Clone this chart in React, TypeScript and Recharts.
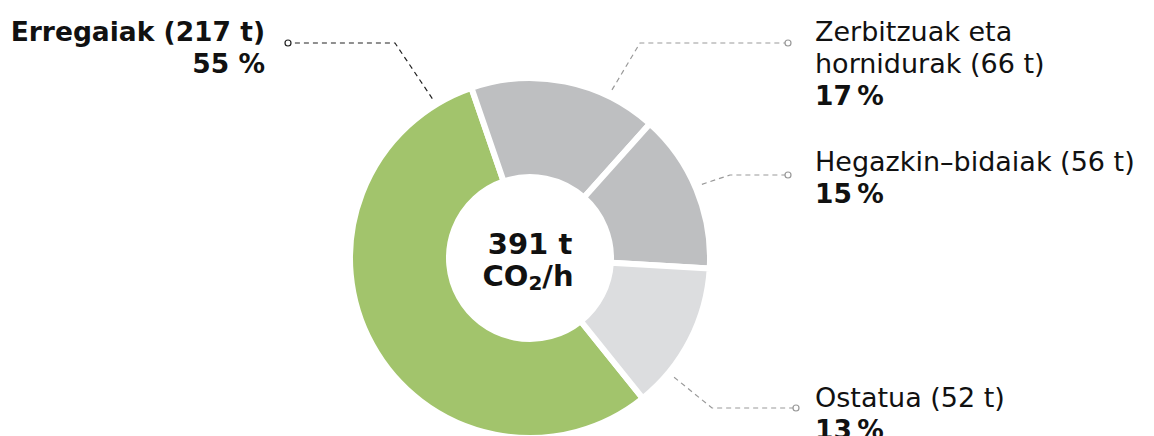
import React from "react"
import { PieChart, Pie, Cell } from "recharts"

const categories = ["Erregaiak", "Zerbitzuak eta hornidurak", "Hegazkin-bidaiak", "Ostatua"]
const tonnes = [217, 66, 56, 52]
const totalLabel = "391 t"

const colors = ["#a2c46c", "#bebfc1", "#bebfc1", "#dcdddf"]

const chartData = categories.map((name, i) => ({ name, value: tonnes[i] }))

const CX = 530
const CY = 258
// the green slice ends at 109° (top left), the others follow clockwise
const total = tonnes.reduce((a, b) => a + b, 0)
const START = 109 + (tonnes[0] / total) * 360

// where each callout sits, relative to the pie centre
const callouts = [
  { angle: 121.5, elbow: [-135, -215], dot: [-242, -215], textX: -265, anchor: "end", lines: [["Erregaiak (217 t)", true], ["55 %", true]], baseY: -217, color: "#222" },
  { angle: 64, elbow: [110, -215], dot: [258, -215], textX: 285, anchor: "start", lines: [["Zerbitzuak eta", false], ["hornidurak (66 t)", false], ["17\u2009%", true]], baseY: -217, color: "#999" },
  { angle: 23.2, elbow: [200, -83], dot: [258, -83], textX: 285, anchor: "start", lines: [["Hegazkin\u2013bidaiak (56 t)", false], ["15\u2009%", true]], baseY: -87, color: "#999" },
  { angle: -39.6, elbow: [182, 150], dot: [266, 150], textX: 285, anchor: "start", lines: [["Ostatua (52 t)", false], ["13\u2009%", true]], baseY: 149, color: "#999" },
]

const FONT = "'DejaVu Sans', Verdana, sans-serif"

function renderCallout(props: any) {
  const { cx, cy, outerRadius, index } = props
  const c = callouts[index]
  if (!c) return null
  const rad = (Math.PI / 180) * c.angle
  const r = outerRadius + 7
  const sx = cx + r * Math.cos(rad)
  const sy = cy - r * Math.sin(rad)
  const ex = cx + c.elbow[0]
  const ey = cy + c.elbow[1]
  const dx = cx + c.dot[0]
  const dy = cy + c.dot[1]
  return (
    <g key={"callout-" + index}>
      <polyline
        points={`${sx},${sy} ${ex},${ey} ${dx},${dy}`}
        fill="none"
        stroke={c.color}
        strokeWidth={1.2}
        strokeDasharray="5 4"
      />
      <circle cx={dx} cy={dy} r={3} fill="#fff" stroke={c.color} strokeWidth={1.2} />
      <text x={cx + c.textX} y={cy + c.baseY} textAnchor={c.anchor} fontFamily={FONT} fill="#111">
        {c.lines.map((l: any, i: number) => (
          <tspan
            key={i}
            x={cx + c.textX}
            dy={i === 0 ? 0 : 32}
            fontSize={l[1] ? 26.5 : 27}
            fontWeight={l[1] ? "bold" : "normal"}
          >
            {l[0]}
          </tspan>
        ))}
      </text>
    </g>
  )
}

export default function App() {
  return (
    <div style={{ position: "absolute", left: 0, top: 0, background: "#fff" }}>
      <PieChart width={1154} height={436} margin={{ top: 0, right: 0, bottom: 0, left: 0 }}>
        <Pie
          data={chartData}
          dataKey="value"
          nameKey="name"
          cx={CX}
          cy={CY}
          outerRadius={180}
          innerRadius={81}
          startAngle={START}
          endAngle={START - 360}
          stroke="#fff"
          strokeWidth={6}
          label={renderCallout}
          labelLine={false}
          isAnimationActive={false}
        >
          {chartData.map((d, i) => (
            <Cell key={d.name} fill={colors[i]} />
          ))}
        </Pie>
        <text textAnchor="middle" fontFamily={FONT} fontWeight="bold" fill="#111">
          <tspan x={CX} y={CY - 4} fontSize={29}>{totalLabel}</tspan>
          <tspan x={CX - 2} y={CY + 28} fontSize={29}>
            CO<tspan fontSize={20} dy={4}>2</tspan><tspan dy={-4}>/h</tspan>
          </tspan>
        </text>
      </PieChart>
    </div>
  )
}
